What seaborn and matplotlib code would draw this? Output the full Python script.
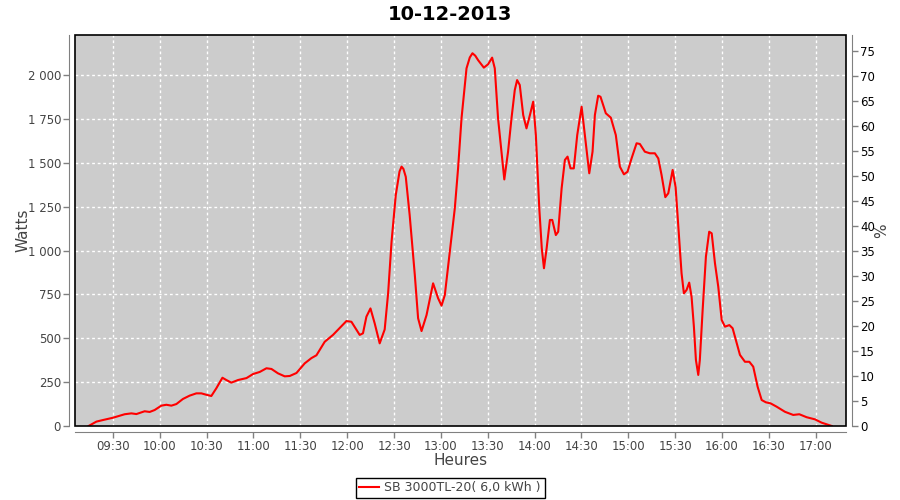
import matplotlib
matplotlib.use("Agg")
import matplotlib.pyplot as plt
import matplotlib.dates as mdates
from matplotlib.patches import Rectangle
import pandas as pd
import seaborn as sns

# ---------------- data ----------------
chart_title = "10-12-2013"
day = "2013-12-10"
series_name = "SB 3000TL-20( 6,0 kWh )"

times = [
    "09:14:24", "09:19:24", "09:23:36", "09:30:00", "09:37:30", "09:41:48", "09:45:00",
    "09:50:18", "09:53:30", "09:56:42", "10:01:00", "10:04:12", "10:07:24", "10:10:36",
    "10:14:48", "10:19:06", "10:23:24", "10:26:36", "10:29:48", "10:33:00", "10:36:12",
    "10:40:06", "10:42:36", "10:45:48", "10:50:06", "10:55:30", "10:59:42", "11:04:00",
    "11:08:18", "11:11:30", "11:15:42", "11:20:00", "11:23:12", "11:27:30", "11:32:48",
    "11:37:06", "11:40:18", "11:45:36", "11:50:54", "11:59:30", "12:02:42", "12:08:00",
    "12:10:06", "12:12:18", "12:14:54", "12:17:36", "12:20:48", "12:24:00", "12:26:12",
    "12:28:24", "12:31:06", "12:33:30", "12:34:48", "12:36:00", "12:37:30", "12:40:00",
    "12:43:18", "12:45:24", "12:47:36", "12:50:48", "12:55:00", "12:58:12", "13:00:24",
    "13:02:30", "13:05:42", "13:08:54", "13:11:00", "13:13:12", "13:16:24", "13:18:30",
    "13:20:12", "13:22:00", "13:23:48", "13:27:30", "13:30:12", "13:32:48", "13:34:30",
    "13:36:36", "13:38:48", "13:40:36", "13:43:00", "13:45:12", "13:47:18", "13:48:48",
    "13:50:30", "13:52:42", "13:54:48", "13:57:00", "13:59:06", "14:00:48", "14:03:00",
    "14:04:36", "14:06:00", "14:07:42", "14:09:48", "14:11:18", "14:13:36", "14:15:06",
    "14:17:18", "14:19:24", "14:21:06", "14:23:00", "14:25:06", "14:27:18", "14:30:06",
    "14:32:12", "14:35:00", "14:37:06", "14:38:36", "14:40:42", "14:42:12", "14:45:36",
    "14:48:48", "14:52:00", "14:54:36", "14:57:12", "14:59:30", "15:02:06", "15:05:18",
    "15:07:24", "15:10:36", "15:13:48", "15:17:00", "15:19:12", "15:21:18", "15:23:42",
    "15:25:36", "15:28:24", "15:30:18", "15:32:36", "15:34:06", "15:35:36", "15:37:18",
    "15:39:00", "15:40:30", "15:42:00", "15:43:18", "15:44:48", "15:45:48", "15:47:36",
    "15:49:42", "15:51:48", "15:53:24", "15:55:30", "15:57:36", "15:59:48", "16:01:54",
    "16:04:42", "16:06:48", "16:08:54", "16:11:30", "16:14:42", "16:17:30", "16:20:00",
    "16:22:48", "16:25:24", "16:28:06", "16:31:06", "16:35:00", "16:40:18", "16:45:36",
    "16:49:30", "16:54:12", "16:59:30", "17:03:48", "17:08:06", "17:10:18",
]
watts = [
    0, 25, 34, 47, 67, 72, 68,
    84, 80, 91, 116, 121, 116, 125,
    154, 173, 186, 186, 178, 171, 215,
    275, 262, 247, 262, 273, 296, 308,
    329, 325, 300, 283, 285, 302, 357,
    387, 403, 480, 519, 598, 594, 519,
    528, 623, 670, 585, 471, 550, 756,
    1050, 1316, 1450, 1478, 1465, 1420, 1202,
    860, 614, 541, 632, 813, 728, 686,
    746, 993, 1240, 1468, 1753, 2038, 2100,
    2124, 2110, 2085, 2042, 2061, 2099, 2038,
    1753, 1563, 1405, 1563, 1753, 1914, 1971,
    1943, 1772, 1696, 1772, 1848, 1658, 1240,
    1012, 899, 1012, 1174, 1174, 1088, 1107,
    1354, 1516, 1535, 1468, 1468, 1658, 1819,
    1658, 1440, 1563, 1772, 1882, 1876, 1782,
    1757, 1658, 1478, 1434, 1449, 1525, 1611,
    1607, 1563, 1554, 1554, 1525, 1430, 1304,
    1326, 1459, 1360, 1060, 870, 756, 775,
    817, 737, 566, 376, 291, 376, 661,
    965, 1107, 1098, 927, 794, 604, 566,
    575, 557, 490, 405, 366, 366, 338,
    224, 148, 135, 129, 110, 81, 63,
    67, 50, 38, 19, 6, 0,
]

watt_ticks = [0, 250, 500, 750, 1000, 1250, 1500, 1750, 2000]
watt_tick_labels = ["0", "250", "500", "750", "1 000", "1 250", "1 500", "1 750", "2 000"]
pct_ticks = [0, 5, 10, 15, 20, 25, 30, 35, 40, 45, 50, 55, 60, 65, 70, 75]
time_tick_labels = ["09:30", "10:00", "10:30", "11:00", "11:30", "12:00", "12:30", "13:00",
                    "13:30", "14:00", "14:30", "15:00", "15:30", "16:00", "16:30", "17:00"]
x_range = ["09:05:42", "17:19:24"]
watt_max = 2228
pct_max = 78.2

# ---------------- plot ----------------
df = pd.DataFrame({"time": pd.to_datetime([f"{day} {t}" for t in times]), "watts": watts})

fig = plt.figure(figsize=(9, 5), dpi=100)
ax = fig.add_axes([75 / 900, 74 / 500, 771 / 900, 391 / 500])
ax.set_facecolor("#cccccc")

sns.lineplot(data=df, x="time", y="watts", ax=ax, color="#ff0000", linewidth=1.5,
             label=series_name)
ax.get_legend().remove()

ax.set_xlim(pd.to_datetime(f"{day} {x_range[0]}"), pd.to_datetime(f"{day} {x_range[1]}"))
ax.set_ylim(0, watt_max)
ax.set_yticks(watt_ticks)
ax.set_yticklabels(watt_tick_labels)
ax.set_xticks(mdates.date2num(pd.to_datetime([f"{day} {t}" for t in time_tick_labels])))
ax.set_xticklabels(time_tick_labels)

ax.grid(True, color="white", linestyle=(0, (2, 2)), linewidth=1)

axis_gray = "#808080"
label_gray = "#444444"
for side in ["top", "right"]:
    ax.spines[side].set_visible(False)
for side in ["left", "bottom"]:
    ax.spines[side].set_position(("outward", 4))
    ax.spines[side].set_color(axis_gray)
ax.tick_params(direction="out", length=4, width=1, color=axis_gray,
               labelcolor=label_gray, labelsize=8.5, pad=2)

ax.add_patch(Rectangle((0, 0), 1, 1, transform=ax.transAxes, fill=False,
                       edgecolor="black", linewidth=1.2, zorder=3, clip_on=False))

ax2 = ax.twinx()
ax2.set_ylim(0, pct_max)
ax2.set_yticks(pct_ticks)
ax2.set_yticklabels([str(v) for v in pct_ticks])
for side in ["top", "left", "bottom"]:
    ax2.spines[side].set_visible(False)
ax2.spines["right"].set_position(("outward", 4))
ax2.spines["right"].set_color(axis_gray)
ax2.tick_params(direction="out", length=4, width=1, color=axis_gray,
                labelcolor="black", labelsize=8.5, pad=2)

ax.set_ylabel("Watts", fontsize=11, color=label_gray)
ax.yaxis.set_label_coords(-0.058, 0.5)
ax.set_xlabel("Heures", fontsize=11, color=label_gray)
ax.xaxis.set_label_coords(0.5, -0.069)
ax2.set_ylabel("%", fontsize=11, color=label_gray)
ax2.yaxis.set_label_coords(1.036, 0.5)

fig.text(0.5, 1 - 14 / 500, chart_title, ha="center", va="center",
         fontsize=14, fontweight="bold", color="black")

handles, labels = ax.get_lines()[:1], [series_name]
leg = fig.legend(handles, labels, loc="center", bbox_to_anchor=(0.5, 1 - 488 / 500),
                 frameon=True, fancybox=False, edgecolor="black", framealpha=1,
                 fontsize=9, handlelength=1.6, handletextpad=0.4, borderpad=0.3,
                 borderaxespad=0)
leg.get_frame().set_linewidth(1)
for t in leg.get_texts():
    t.set_color(label_gray)

fig.savefig("out.png", dpi=100)
